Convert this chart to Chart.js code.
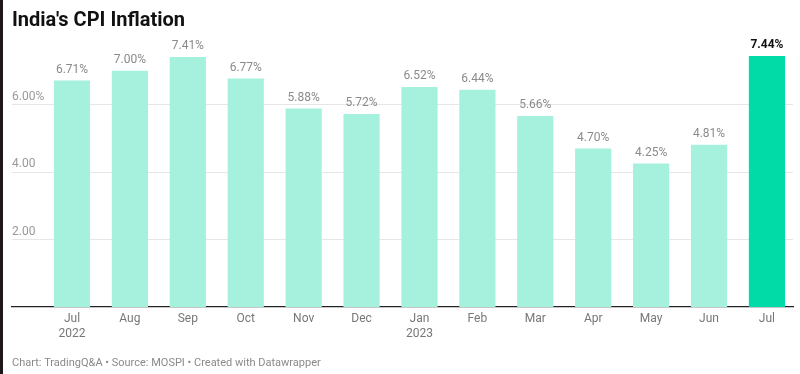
<!DOCTYPE html>
<html>
<head>
<meta charset="utf-8">
<script src="https://cdn.jsdelivr.net/npm/chart.js@4"></script>
<style>
  html, body { margin: 0; padding: 0; background: #ffffff; }
  #wrap { width: 797px; height: 374px; border-left: 3px solid #1d1719; position: relative; }
  canvas { display: block; }
</style>
</head>
<body>
<div id="wrap"><canvas id="c" width="797" height="374"></canvas></div>
<script>
const months = ["Jul", "Aug", "Sep", "Oct", "Nov", "Dec", "Jan", "Feb", "Mar", "Apr", "May", "Jun", "Jul"];
const years = ["2022", "", "", "", "", "", "2023", "", "", "", "", "", ""];
const cpi = [6.71, 7.00, 7.41, 6.77, 5.88, 5.72, 6.52, 6.44, 5.66, 4.70, 4.25, 4.81, 7.44];
const yTicks = [2, 4, 6];

const LIGHT = "#a6f1de";
const DARK = "#00dba8";
const FONT = "Roboto, 'Noto Sans', sans-serif";

const points = cpi.map((v, i) => ({ x: i, y: v }));
const lastIdx = cpi.length - 1;

const valueLabels = {
  id: "valueLabels",
  afterDatasetsDraw(chart) {
    const ctx = chart.ctx;
    const meta = chart.getDatasetMeta(0);
    ctx.save();
    ctx.textAlign = "center";
    ctx.textBaseline = "middle";
    meta.data.forEach((bar, i) => {
      const isLast = i === lastIdx;
      ctx.font = (isLast ? "bold " : "") + "12px " + FONT;
      ctx.fillStyle = isLast ? "#111111" : "#8a8a8a";
      ctx.fillText(cpi[i].toFixed(2) + "%", bar.x, bar.y - 10.5);
    });
    ctx.restore();
  }
};

new Chart(document.getElementById("c"), {
  type: "bar",
  data: {
    datasets: [{
      data: points,
      backgroundColor: cpi.map((_, i) => i === lastIdx ? DARK : LIGHT),
      borderWidth: 0,
      barPercentage: 0.625,
      categoryPercentage: 1.0
    }]
  },
  options: {
    responsive: false,
    animation: false,
    layout: { padding: { left: 9, right: 7, top: 0, bottom: 0 } },
    plugins: {
      legend: { display: false },
      tooltip: { enabled: false },
      title: {
        display: true,
        text: "India's CPI Inflation",
        align: "start",
        color: "#111111",
        font: { family: FONT, size: 20, weight: "bold" },
        padding: { top: 9, bottom: 4 }
      },
      subtitle: {
        display: true,
        position: "bottom",
        text: "Chart: TradingQ&A \u2022 Source: MOSPI \u2022 Created with Datawrapper",
        align: "start",
        color: "#8a8a8a",
        font: { family: FONT, size: 11 },
        padding: { top: 11, bottom: 4 }
      }
    },
    scales: {
      x: {
        type: "linear",
        bounds: "data",
        offset: false,
        min: -1.036,
        max: 12.45,
        grid: { display: false, drawTicks: false, offset: false },
        border: { display: true, color: "#222222", width: 1.2 },
        afterBuildTicks(scale) {
          scale.ticks = months.map((_, i) => ({ value: i }));
        },
        ticks: {
          autoSkip: false,
          maxRotation: 0,
          padding: 5,
          color: "#777777",
          font: { family: FONT, size: 12 },
          callback(value) {
            const i = Math.round(value);
            return years[i] ? [months[i], years[i]] : months[i];
          }
        }
      },
      y: {
        min: 0,
        max: 8,
        afterFit(scale) { scale.width = 0; },
        afterBuildTicks(scale) {
          scale.ticks = yTicks.map(v => ({ value: v }));
        },
        grid: { color: "#e6e6e6", lineWidth: 1, drawTicks: false },
        border: { display: false },
        ticks: {
          mirror: true,
          padding: 0,
          labelOffset: -8,
          color: "#999999",
          font: { family: FONT, size: 12 },
          callback(value) {
            return value === 6 ? value.toFixed(2) + "%" : value.toFixed(2);
          }
        }
      }
    }
  },
  plugins: [valueLabels]
});
</script>
</body>
</html>
